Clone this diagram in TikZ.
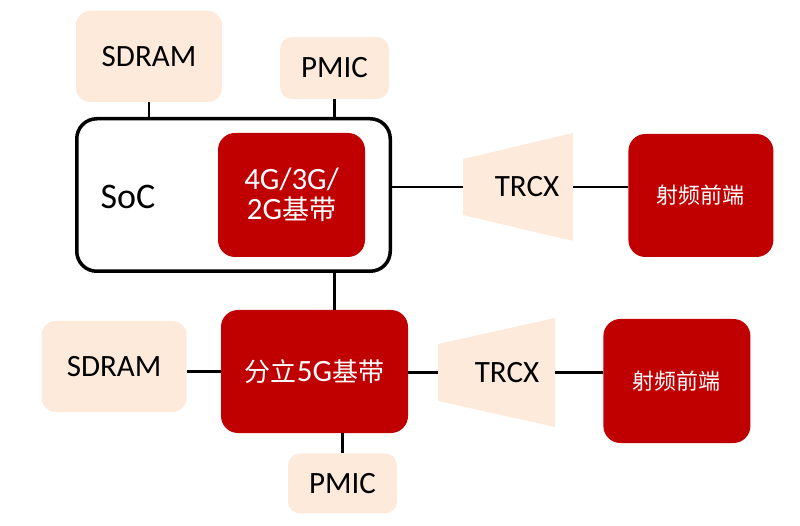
\documentclass[tikz,border=0pt]{standalone}
\usepackage{fontspec}
\setmainfont{Carlito}
\newfontfamily\cjk{Noto Sans CJK SC}
\usetikzlibrary{positioning}
\definecolor{chipred}{RGB}{192,0,0}
\definecolor{peach}{RGB}{253,234,218}
\tikzset{x=1pt, y=1pt, node distance=30pt,
    lightbox/.style={rectangle, rounded corners=14pt, fill=peach, minimum width=146pt, minimum height=91pt},
    pmicbox/.style={lightbox, rounded corners=12pt, minimum width=109pt, minimum height=61pt},
    chip/.style={rectangle, rounded corners=17pt, fill=chipred, text=white, align=center, minimum width=146pt, minimum height=123pt, font=\fontsize{31}{30}\selectfont},
    trcx/.style={rectangle, inner sep=0pt, label={[xshift=#1]center:TRCX}, path picture={
        \fill[peach] (path picture bounding box.north east) -- (path picture bounding box.south east)
            -- ([yshift=26pt]path picture bounding box.south west) -- ([yshift=-26pt]path picture bounding box.north west) -- cycle;}},
    wire/.style={line width=2.8pt}}

\begin{document}
\begin{tikzpicture}[font=\fontsize{31}{36}\selectfont]
        \useasboundingbox (0,0) rectangle (800,525);
        \node[rectangle, draw, line width=3.5pt, rounded corners=20pt, minimum width=313.5pt, minimum height=152.5pt] (soc) at (233.5,330) {};
        \node (soclabel) at (128,328) {\fontsize{36}{42}\selectfont SoC};
        \node[chip, minimum width=147pt, minimum height=124pt] (base4g) at (291.5,330) {4G/3G/\\2G{\cjk\fontsize{27}{30}\selectfont 基带}};
        \node[lightbox] (sdram1) at (149,468.5) {SDRAM};
        \node[pmicbox, minimum height=62pt] (pmic1) at (334.5,457) {PMIC};
        \node[trcx=9pt, minimum width=110pt, minimum height=108pt] (trcx1) at (518,338) {};
        \node[chip, right=55pt of trcx1, yshift=-8.5pt, minimum width=145pt, font=\cjk\fontsize{22}{26}\selectfont] (rf1) {射频前端};

        \node[chip, minimum width=187pt] (base5g) at (314.5,153.5) {{\cjk\fontsize{26}{30}\selectfont 分立}5G{\cjk\fontsize{26}{30}\selectfont 基带}};
        \node[lightbox, left=34pt of base5g, yshift=5pt, minimum width=145pt] (sdram2) {SDRAM};
        \node[pmicbox, below=20pt of base5g, xshift=28pt, minimum height=60pt] (pmic2) {PMIC};
        \node[trcx=10.5pt, minimum width=117pt, minimum height=109pt] (trcx2) at (496.5,152.5) {};
        \node[chip, right=48pt of trcx2, yshift=-8.5pt, minimum width=147pt, minimum height=124pt, font=\cjk\fontsize{22}{26}\selectfont] (rf2) {射频前端};

        \draw[wire] (sdram1) -- (sdram1 |- soc.north);
        \draw[wire] (pmic1) -- (pmic1 |- soc.north);
        \draw[wire] (pmic1 |- soc.south) -- (pmic1 |- base5g.north);
        \draw[wire] (trcx1.west) -- (trcx1.west -| soc.east);
        \draw[wire] (trcx1.east) -- (trcx1.east -| rf1.west);
        \draw[wire] (base5g.west) -- (base5g.west -| sdram2.east);
        \draw[wire] (trcx2.west) -- (trcx2.west -| base5g.east);
        \draw[wire] (trcx2.east) -- (trcx2.east -| rf2.west);
        \draw[wire] (pmic2) -- (pmic2 |- base5g.south);
    \end{tikzpicture}
\end{document}
